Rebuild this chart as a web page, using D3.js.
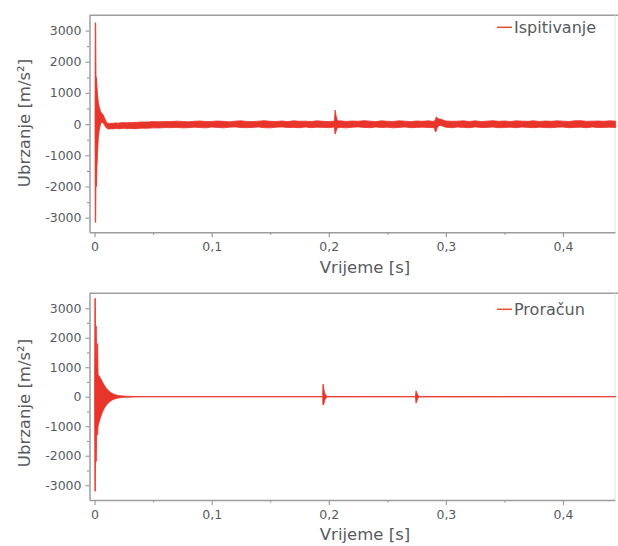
<!DOCTYPE html>
<html>
<head>
<meta charset="utf-8">
<script src="https://cdn.jsdelivr.net/npm/d3@7"></script>
<style>
  body { margin: 0; background: #fff; }
  svg text { font-family: 'DejaVu Sans', sans-serif; fill: #565b60; }
</style>
</head>
<body>
<svg id="chart" width="618" height="546"></svg>
<script>
// tick values
const xTicks = [0, 0.1, 0.2, 0.3, 0.4]
const xMinor = [0.05, 0.15, 0.25, 0.35]
const yTicks = [-3000, -2000, -1000, 0, 1000, 2000, 3000]
const yMinor = [-2500, -1500, -500, 500, 1500, 2500]

// Ispitivanje (measured) - impact part, envelope of the signal [m/s2]
const measImpactT = [0.0004, 0.0006, 0.0010, 0.0013, 0.0016, 0.0020, 0.0026, 0.0032, 0.0040, 0.0050,
  0.0060, 0.0070, 0.0080, 0.0090, 0.0100, 0.0110, 0.0125, 0.0140, 0.0160, 0.0180,
  0.0200, 0.0225, 0.0250, 0.0275, 0.0300, 0.0325, 0.0350]
const measImpactHi = [0, 3250, 3250, 1200, 1500, 1250, 950, 700, 560, 420,
  360, 320, 250, 160, 80, 30, 20, 30, 25, 40,
  30, 45, 50, 40, 55, 50, 60]
const measImpactLo = [0, -3150, -3150, -1200, -2000, -1450, -900, -450, -200, -20,
  60, 40, 0, -60, -120, -150, -160, -150, -155, -140,
  -150, -145, -135, -150, -140, -145, -150]

// Ispitivanje - rest of the record
const measTailT = [0.035, 0.040, 0.045, 0.050, 0.055, 0.060, 0.065, 0.070, 0.075, 0.080,
  0.085, 0.090, 0.095, 0.100, 0.105, 0.110, 0.115, 0.120, 0.125, 0.130,
  0.135, 0.140, 0.145, 0.150, 0.155, 0.160, 0.165, 0.170, 0.175, 0.180,
  0.185, 0.190, 0.195, 0.200, 0.205, 0.210, 0.215, 0.220, 0.225, 0.230,
  0.235, 0.240, 0.245, 0.250, 0.255, 0.260, 0.265, 0.270, 0.275, 0.280,
  0.285, 0.290, 0.295, 0.300, 0.305, 0.310, 0.315, 0.320, 0.325, 0.330,
  0.335, 0.340, 0.345, 0.350, 0.355, 0.360, 0.365, 0.370, 0.375, 0.380,
  0.385, 0.390, 0.395, 0.400, 0.405, 0.410, 0.415, 0.420, 0.425, 0.430,
  0.435, 0.440, 0.445]
const measTailHi = [55, 70, 65, 80, 75, 85, 80, 95, 85, 75,
  90, 100, 80, 85, 100, 90, 75, 95, 105, 85,
  80, 95, 110, 90, 85, 100, 80, 105, 90, 95,
  85, 105, 90, 80, 95, 105, 85, 100, 90, 110,
  95, 80, 105, 90, 85, 105, 95, 80, 100, 90,
  105, 85, 165, 100, 90, 95, 105, 85, 105, 80,
  95, 110, 90, 100, 85, 105, 95, 90, 105, 85,
  100, 90, 105, 95, 85, 105, 110, 90, 95, 100,
  90, 105, 95]
const measTailLo = [-145, -130, -135, -120, -125, -110, -115, -105, -120, -115,
  -100, -110, -120, -95, -105, -120, -100, -90, -110, -115,
  -105, -95, -115, -120, -100, -90, -110, -105, -115, -95,
  -115, -100, -105, -115, -95, -110, -120, -100, -90, -105,
  -115, -95, -110, -100, -120, -105, -90, -115, -105, -100,
  -110, -115, -40, -100, -115, -95, -105, -115, -90, -110,
  -105, -95, -115, -110, -100, -115, -95, -105, -115, -100,
  -110, -115, -100, -95, -115, -105, -100, -115, -95, -110,
  -105, -100, -110]

// Ispitivanje - two short bursts
const measBurst1T = [0.2048, 0.2054, 0.2060, 0.2068, 0.2078]
const measBurst1Hi = [95, 450, 320, 180, 95]
const measBurst1Lo = [-105, -320, -260, -160, -105]
const measBurst2T = [0.2902, 0.2910, 0.2918, 0.2930, 0.2945]
const measBurst2Hi = [95, 140, 235, 180, 160]
const measBurst2Lo = [-105, -250, -220, -80, -40]

// Proračun (computed) - envelope of the signal [m/s2]
const calcT = [0.0000, 0.0003, 0.0007, 0.0010, 0.0014, 0.0018, 0.0026, 0.0030, 0.0040, 0.0055,
  0.0070, 0.0085, 0.0100, 0.0120, 0.0140, 0.0160, 0.0180, 0.0200, 0.0230, 0.0260,
  0.0300, 0.0350, 0.0400, 0.1948, 0.1950, 0.1954, 0.1958, 0.1966, 0.1976, 0.1990,
  0.2740, 0.2745, 0.2750, 0.2760, 0.2770, 0.4450]
const calcHi = [0, 3330, 3330, 900, 2400, 900, 1800, 750, 700, 600,
  480, 380, 290, 200, 140, 95, 65, 45, 30, 20,
  14, 8, 5, 5, 420, 420, 250, 120, 40, 8,
  5, 200, 150, 60, 10, 5]
const calcLo = [0, -3200, -3200, -900, -2200, -1000, -1300, -1000, -850, -650,
  -500, -380, -290, -200, -140, -95, -65, -45, -30, -20,
  -14, -8, -5, -5, -280, -280, -250, -120, -40, -8,
  -5, -220, -170, -60, -10, -5]

const red = '#e8352b'
const axisGrey = '#9c9c9c'
const xDomain = [-0.0043, 0.4444]

const svg = d3.select('#chart')

function drawPanel (cfg) {
  const x = d3.scaleLinear().domain(xDomain).range([89.5, 615])
  const y = d3.scaleLinear().domain(cfg.yDomain).range([cfg.bottom, cfg.top])
  const g = svg.append('g')

  // frame: top line and faint right edge
  g.append('line')
    .attr('x1', 89.5).attr('x2', 618)
    .attr('y1', cfg.top).attr('y2', cfg.top)
    .attr('stroke', axisGrey).attr('stroke-width', 1.5)
  g.append('line')
    .attr('x1', 615).attr('x2', 615)
    .attr('y1', cfg.top).attr('y2', cfg.bottom)
    .attr('stroke', '#e4e4e4').attr('stroke-width', 1)

  // signal envelopes
  const area = d3.area()
    .x(d => x(d.t))
    .y0(d => y(d.lo))
    .y1(d => y(d.hi))
  cfg.series.forEach(s => {
    const rows = s.t.map((t, i) => ({ t: t, hi: s.hi[i], lo: s.lo[i] }))
    g.append('path')
      .datum(rows)
      .attr('d', area)
      .attr('fill', red)
      .attr('stroke', red)
      .attr('stroke-width', 0.8)
      .attr('stroke-linejoin', 'round')
  })

  // y axis
  g.append('g')
    .attr('transform', 'translate(89.5,0)')
    .call(d3.axisLeft(y).tickValues(yTicks).tickSize(4).tickSizeOuter(0).tickPadding(4)
      .tickFormat(d => String(d)))
  g.append('g')
    .attr('transform', 'translate(89.5,0)')
    .call(d3.axisLeft(y).tickValues(yMinor).tickSize(2.5).tickSizeOuter(0).tickFormat(''))
    .select('.domain').remove()

  // x axis
  g.append('g')
    .attr('transform', 'translate(0,' + cfg.bottom + ')')
    .call(d3.axisBottom(x).tickValues(xTicks).tickSize(5).tickSizeOuter(0).tickPadding(5)
      .tickFormat(d => String(d).replace('.', ',')))
  g.append('g')
    .attr('transform', 'translate(0,' + cfg.bottom + ')')
    .call(d3.axisBottom(x).tickValues(xMinor).tickSize(2.5).tickSizeOuter(0).tickFormat(''))
    .select('.domain').remove()

  g.selectAll('.domain').attr('stroke', axisGrey).attr('stroke-width', 1.5)
  g.selectAll('.tick line').attr('stroke', axisGrey).attr('stroke-width', 1.2)
  g.selectAll('.tick text').style('font-size', '12.5px').style('fill', '#565b60')
    .style('font-family', "'DejaVu Sans', sans-serif")

  // axis titles
  g.append('text')
    .attr('transform', 'translate(30,' + cfg.yTitleY + ') rotate(-90)')
    .attr('text-anchor', 'middle')
    .style('font-size', '16.5px')
    .text('Ubrzanje [m/s²]')
  g.append('text')
    .attr('x', 365)
    .attr('y', cfg.xTitleY)
    .attr('text-anchor', 'middle')
    .style('font-size', '16.5px')
    .text('Vrijeme [s]')

  // legend
  g.append('line')
    .attr('x1', 497).attr('x2', 512)
    .attr('y1', cfg.legendY).attr('y2', cfg.legendY)
    .attr('stroke', '#e8502f').attr('stroke-width', 1.5)
  g.append('text')
    .attr('x', 514)
    .attr('y', cfg.legendY + 5.5)
    .style('font-size', '16px')
    .text(cfg.name)
}

drawPanel({
  name: 'Ispitivanje',
  top: 15.3,
  bottom: 232.3,
  yDomain: [-3470, 3490],
  yTitleY: 123,
  xTitleY: 273,
  legendY: 27.3,
  series: [
    { t: measImpactT, hi: measImpactHi, lo: measImpactLo },
    { t: measTailT, hi: measTailHi, lo: measTailLo },
    { t: measBurst1T, hi: measBurst1Hi, lo: measBurst1Lo },
    { t: measBurst2T, hi: measBurst2Hi, lo: measBurst2Lo }
  ]
})

drawPanel({
  name: 'Proračun',
  top: 293.3,
  bottom: 500,
  yDomain: [-3500, 3505],
  yTitleY: 403,
  xTitleY: 540,
  legendY: 309.3,
  series: [
    { t: calcT, hi: calcHi, lo: calcLo }
  ]
})
</script>
</body>
</html>
